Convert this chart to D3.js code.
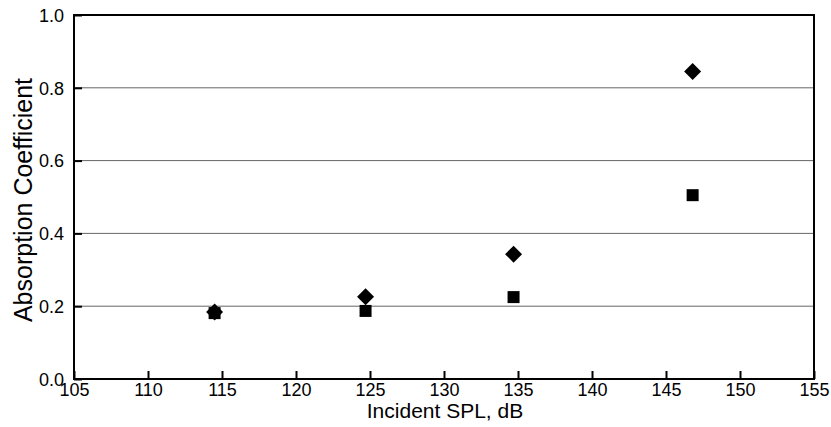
<!DOCTYPE html>
<html><head><meta charset="utf-8">
<script src="https://cdn.jsdelivr.net/npm/d3@7"></script>
<style>body{margin:0;background:#fff}svg{display:block;font-family:"Liberation Sans",Arial,Helvetica,sans-serif}</style>
</head><body>
<svg id="c" width="831" height="427"></svg>
<script>
const splDiamond = [114.5, 124.7, 134.7, 146.8];
const absDiamond = [0.184, 0.226, 0.343, 0.845];
const splSquare = [114.5, 124.7, 134.7, 146.8];
const absSquare = [0.181, 0.187, 0.225, 0.505];
const xTicks = [105, 110, 115, 120, 125, 130, 135, 140, 145, 150, 155];
const yTicks = [0.0, 0.2, 0.4, 0.6, 0.8, 1.0];
const gridVals = [0.2, 0.4, 0.6, 0.8];

const svg = d3.select("#c");
const L = 74, R = 814, T = 15, B = 379;
const x = d3.scaleLinear().domain([105, 155]).range([L, R]);
const y = d3.scaleLinear().domain([0, 1]).range([B, T]);

// gridlines
svg.append("g").selectAll("line").data(gridVals).join("line")
  .attr("x1", L).attr("x2", R).attr("y1", d => y(d)).attr("y2", d => y(d))
  .attr("stroke", "#666").attr("stroke-width", 1);

// axes with inward ticks
const xAxis = svg.append("g").attr("transform", `translate(0,${B})`)
  .call(d3.axisBottom(x).tickValues(xTicks).tickSize(-8).tickPadding(4).tickFormat(d3.format("d")));
const yAxis = svg.append("g").attr("transform", `translate(${L},0)`)
  .call(d3.axisLeft(y).tickValues(yTicks).tickSize(-8).tickPadding(10).tickFormat(d3.format(".1f")));
[xAxis, yAxis].forEach(a => {
  a.select(".domain").remove();
  a.selectAll(".tick line").attr("stroke", "#000").attr("stroke-width", 2);
  a.selectAll(".tick text").attr("fill", "#000").style("font-size", "18px").style("font-family", "'Liberation Sans',Arial,sans-serif");
});
yAxis.selectAll(".tick text").attr("dy", "0.35em");

// frame
svg.append("rect").attr("x", L).attr("y", T).attr("width", R - L).attr("height", B - T)
  .attr("fill", "none").attr("stroke", "#000").attr("stroke-width", 2);

// squares
svg.append("g").selectAll("path").data(splSquare.map((s, i) => [s, absSquare[i]])).join("path")
  .attr("transform", d => `translate(${x(d[0])},${y(d[1])})`)
  .attr("d", d3.symbol(d3.symbolSquare, 144))
  .attr("fill", "#000");
// diamonds
svg.append("g").selectAll("path").data(splDiamond.map((s, i) => [s, absDiamond[i]])).join("path")
  .attr("transform", d => `translate(${x(d[0])},${y(d[1])}) rotate(45)`)
  .attr("d", d3.symbol(d3.symbolSquare, 144))
  .attr("fill", "#000");

// titles
svg.append("text").attr("x", 445).attr("y", 418).attr("text-anchor", "middle")
  .style("font-size", "21px").text("Incident SPL, dB");
svg.append("text").attr("transform", `translate(32,200) rotate(-90)`).attr("text-anchor", "middle")
  .style("font-size", "25px").text("Absorption Coefficient");
</script>
</body></html>
